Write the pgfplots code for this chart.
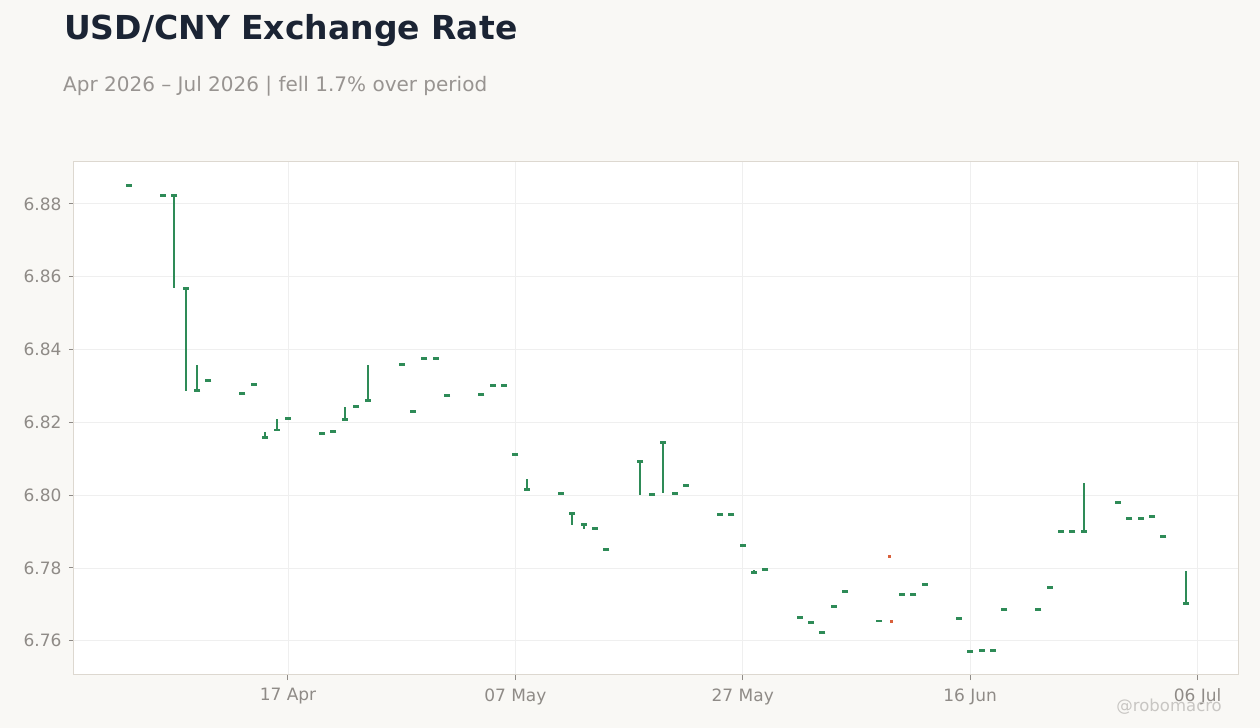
\documentclass[border=0pt]{standalone}
\usepackage{pgfplots}
\pgfplotsset{compat=1.18}
\usepackage{pgfplotstable}
\usepackage{fontspec}
\setmainfont{DejaVu Sans}

\definecolor{bg}{HTML}{F9F8F5}
\definecolor{titlecol}{HTML}{1B2434}
\definecolor{subcol}{HTML}{989491}
\definecolor{tickcol}{HTML}{8F8B87}
\definecolor{bordercol}{HTML}{DDD8D0}
\definecolor{gridcol}{HTML}{EFEFEF}
\definecolor{upcol}{HTML}{2E8B57}
\definecolor{downcol}{HTML}{D9603B}
\definecolor{markcol}{HTML}{C8C6C3}

% d = days after 1 Apr 2026; o = body level; lo/hi = wick ends
\pgfplotstableread{
d  o      lo     hi
2  6.8850 6.8850 6.8850
5  6.8823 6.8823 6.8823
6  6.8823 6.8568 6.8823
7  6.8567 6.8287 6.8567
8  6.8287 6.8287 6.8358
9  6.8315 6.8315 6.8315
12 6.8279 6.8279 6.8279
13 6.8304 6.8304 6.8304
14 6.8158 6.8158 6.8174
15 6.8179 6.8179 6.8209
16 6.8210 6.8210 6.8210
19 6.8169 6.8169 6.8172
20 6.8175 6.8175 6.8175
21 6.8207 6.8207 6.8242
22 6.8243 6.8243 6.8243
23 6.8260 6.8260 6.8358
26 6.8359 6.8359 6.8359
27 6.8229 6.8229 6.8229
28 6.8375 6.8375 6.8375
29 6.8375 6.8375 6.8375
30 6.8273 6.8273 6.8273
33 6.8276 6.8276 6.8276
34 6.8301 6.8301 6.8301
35 6.8301 6.8301 6.8301
36 6.8111 6.8111 6.8111
37 6.8015 6.8015 6.8044
40 6.8004 6.8004 6.8004
41 6.7949 6.7919 6.7949
42 6.7919 6.7908 6.7919
43 6.7908 6.7908 6.7908
44 6.7850 6.7850 6.7850
47 6.8093 6.8001 6.8093
48 6.8001 6.8001 6.8001
49 6.8145 6.8005 6.8145
50 6.8005 6.8005 6.8005
51 6.8026 6.8026 6.8026
54 6.7946 6.7946 6.7946
55 6.7946 6.7946 6.7946
56 6.7861 6.7861 6.7861
57 6.7787 6.7787 6.7794
58 6.7796 6.7796 6.7796
61 6.7664 6.7664 6.7664
62 6.7650 6.7650 6.7650
63 6.7622 6.7622 6.7622
64 6.7694 6.7694 6.7694
65 6.7735 6.7735 6.7735
68 6.7654 6.7654 6.7654
70 6.7727 6.7727 6.7727
71 6.7727 6.7727 6.7727
72 6.7755 6.7755 6.7755
75 6.7661 6.7661 6.7661
76 6.7570 6.7570 6.7570
77 6.7573 6.7573 6.7573
78 6.7573 6.7573 6.7573
79 6.7686 6.7686 6.7686
82 6.7686 6.7686 6.7686
83 6.7746 6.7746 6.7746
84 6.7900 6.7900 6.7900
85 6.7900 6.7900 6.7900
86 6.7900 6.7900 6.8033
89 6.7980 6.7980 6.7980
90 6.7936 6.7936 6.7936
91 6.7936 6.7936 6.7939
92 6.7941 6.7941 6.7941
93 6.7886 6.7886 6.7886
95 6.7702 6.7702 6.7791
}\updata

\begin{document}
\begin{tikzpicture}
\fill[bg] (-74bp,-53bp) rectangle (1186bp,675bp);
\node[anchor=base west, inner sep=0pt, text=titlecol, font=\fontsize{33bp}{38bp}\selectfont\bfseries]
  at (-10bp,635bp) {USD/CNY Exchange Rate};
\node[anchor=base west, inner sep=0pt, text=subcol, font=\fontsize{20bp}{24bp}\selectfont]
  at (-11bp,583bp) {Apr 2026 – Jul 2026 | fell 1.7\% over period};
\begin{axis}[
  at={(0,0)}, anchor=south west,
  scale only axis, width=1165bp, height=513bp,
  xmin=-2.82, xmax=99.64, ymin=6.7506, ymax=6.8915,
  axis background/.style={fill=white},
  axis line style={draw=bordercol, line width=1bp},
  grid=major, grid style={draw=gridcol, line width=0.8bp},
  tick align=outside, major tick length=5bp,
  tick style={draw=tickcol, line width=1bp},
  xtick={16,36,56,76,96},
  xticklabels={17 Apr, 07 May, 27 May, 16 Jun, 06 Jul},
  ytick={6.76,6.78,6.80,6.82,6.84,6.86,6.88},
  yticklabel style={xshift=-4bp, /pgf/number format/fixed,
    /pgf/number format/fixed zerofill, /pgf/number format/precision=2},
  ticklabel style={font=\fontsize{17bp}{20bp}\selectfont, text=tickcol},
  xticklabel style={yshift=-5bp},
  /pgf/number format/assume math mode=true,
  xtick pos=bottom, ytick pos=left,
  clip=false,
]
% wicks
\addplot[draw=none, mark=none, forget plot,
  error bars/.cd, y dir=both, y explicit, error mark=none,
  error bar style={draw=upcol, line width=2bp}]
  table[x=d, y=o,
        y error plus expr=\thisrow{hi}-\thisrow{o},
        y error minus expr=\thisrow{o}-\thisrow{lo}] {\updata};
% bodies
\addplot[only marks, mark=-, mark size=3bp,
  mark options={draw=upcol, line width=2.6bp}]
  table[x=d, y=o] {\updata};
% the one down day
\addplot[only marks, mark=square*, mark size=1bp,
  mark options={draw=downcol, fill=downcol}]
  coordinates {(68.9,6.7831) (69.1,6.7654)};
\end{axis}
\node[anchor=base east, inner sep=0pt, text=markcol, font=\fontsize{16.5bp}{19bp}\selectfont]
  at (1148bp,-36bp) {@robomacro};
\end{tikzpicture}
\end{document}
